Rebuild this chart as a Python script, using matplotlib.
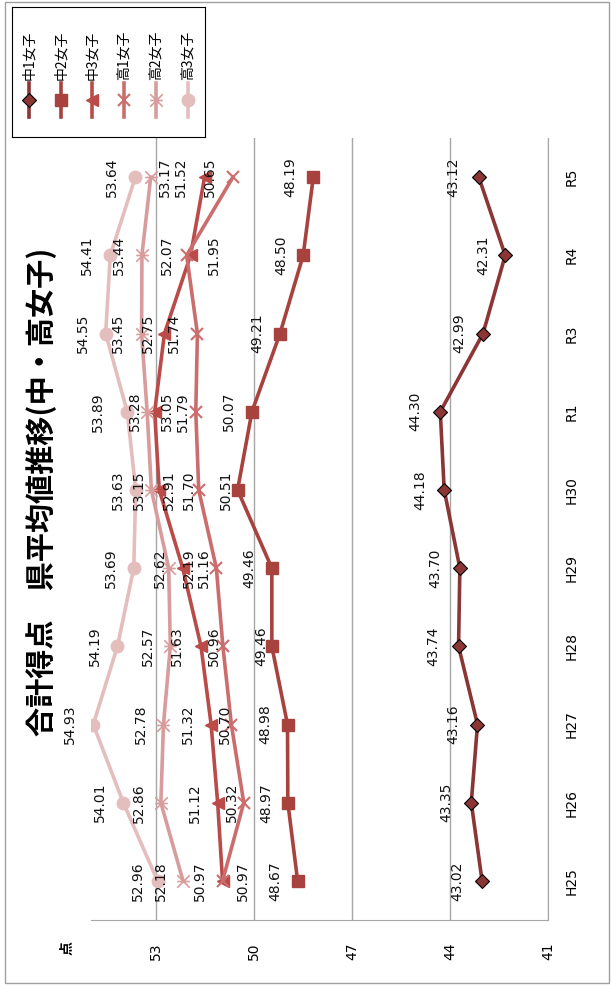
import matplotlib
matplotlib.use("Agg")
import matplotlib.pyplot as plt
from matplotlib.path import Path
from matplotlib.patches import Rectangle

plt.rcParams['font.family'] = ['DejaVu Sans', 'Noto Sans CJK JP']

# data
cats = ['H25', 'H26', 'H27', 'H28', 'H29', 'H30', 'R1', 'R3', 'R4', 'R5']
chu1 = [43.02, 43.35, 43.16, 43.74, 43.70, 44.18, 44.30, 42.99, 42.31, 43.12]
chu2 = [48.67, 48.97, 48.98, 49.46, 49.46, 50.51, 50.07, 49.21, 48.50, 48.19]
chu3 = [50.97, 51.12, 51.32, 51.63, 52.19, 52.91, 53.05, 52.75, 51.95, 51.52]
kou1 = [50.97, 50.32, 50.70, 50.96, 51.16, 51.70, 51.79, 51.74, 52.07, 50.65]
kou2 = [52.18, 52.86, 52.78, 52.57, 52.62, 53.15, 53.28, 53.45, 53.44, 53.17]
kou3 = [52.96, 54.01, 54.93, 54.19, 53.69, 53.63, 53.89, 54.55, 54.41, 53.64]
names = ['中1女子', '中2女子', '中3女子', '高1女子', '高2女子', '高3女子']
value_ticks = [53, 50, 47, 44, 41]

# label offsets in pixels (negative = left of the marker)
offs = [
    [-25, -25, -24, -25, -25, -24, -25, -24, -22, -25],
    [-22, -22, -22, -11, -23, -12, -23, -23, -22, -23],
    [20, -23, -23, -24, 6, 10, 12, -17, 23, -24],
    [-23, -12, -6, -9, -12, -10, -13, -23, -20, -23],
    [-22, -22, -23, -22, -9, -12, -12, -24, -23, 14],
    [-20, -23, -23, -23, -23, -18, -29, -23, -23, -23],
]

star = Path([(-1, -1), (1, 1), (-1, 1), (1, -1), (-1, 0), (1, 0)],
            [Path.MOVETO, Path.LINETO] * 3)

styles = [
    dict(color='#8B3535', marker='D', ms=7, mfc='#8B3535', mec='black', mew=0.8),
    dict(color='#A8423F', marker='s', ms=8),
    dict(color='#BA4B49', marker='<', ms=9),
    dict(color='#CB6D6D', marker='x', ms=9, mew=1.5),
    dict(color='#D89C9C', marker=star, ms=9, mew=1.2, mfc='none'),
    dict(color='#E4BDBD', marker='o', ms=9),
]

fig = plt.figure(figsize=(6.11, 9.85), dpi=100)
W, H = 611, 985
ax = fig.add_axes([91 / W, 65 / H, 457 / W, 782 / H])

ypos = list(range(len(cats)))
series = [chu1, chu2, chu3, kou1, kou2, kou3]
for k, vals in enumerate(series):
    ax.plot(vals, ypos, lw=2.6, zorder=3 + k * 0.1, **styles[k])
    for i, v in enumerate(vals):
        ax.annotate(f'{v:.2f}', (v, i), xytext=(offs[k][i], 0),
                    textcoords='offset pixels', rotation=90,
                    ha='center', va='center', fontsize=10,
                    color='#111111', zorder=6)

ax.set_xlim(55, 41)
ax.set_ylim(-0.5, 9.5)
ax.set_xticks(value_ticks)
ax.set_xticklabels([str(t) for t in value_ticks], rotation=90)
ax.tick_params(axis='x', length=0, pad=16, labelsize=10)
ax.yaxis.tick_right()
ax.set_yticks(ypos)
ax.set_yticklabels(cats, rotation=90, va='center')
ax.tick_params(axis='y', length=0, pad=12, labelsize=10)
ax.grid(axis='x', color='#A6A6A6', lw=1)
ax.set_axisbelow(True)
for s in ['top', 'left']:
    ax.spines[s].set_visible(False)
for s in ['right', 'bottom']:
    ax.spines[s].set_color('#A6A6A6')

fig.text(42 / W, 1 - 492 / H, '合計得点　県平均値推移(中・高女子)',
         rotation=90, ha='center', va='center', fontsize=21,
         fontweight='bold', family=['Noto Sans CJK JP'])
fig.text(68 / W, 1 - 948 / H, '点', rotation=90, ha='center', va='center',
         fontsize=10, fontweight='bold', family=['Noto Sans CJK JP'])

# legend drawn by hand
lax = fig.add_axes([12 / W, 1 - 137 / H, 193 / W, 130 / H])
lax.set_xlim(0, 193)
lax.set_ylim(130, 0)
lax.set_xticks([])
lax.set_yticks([])
for s in lax.spines.values():
    s.set_color('black')
cols = [17, 49, 80, 112, 144, 176]
for k, name in enumerate(names):
    lax.plot([cols[k], cols[k]], [76, 110], lw=2.6, color=styles[k]['color'])
    st = dict(styles[k])
    st.pop('color')
    lax.plot([cols[k]], [93], color=styles[k]['color'], ls='none', **st)
    lax.text(cols[k], 73, name, rotation=90, ha='center', va='bottom',
             fontsize=10, family=['Noto Sans CJK JP'])

fig.patches.append(Rectangle((5 / W, 2 / H), 604 / W, 981 / H,
                             transform=fig.transFigure, fill=False,
                             ec='#A0A0A0', lw=1))

fig.savefig('out.png', dpi=100)
